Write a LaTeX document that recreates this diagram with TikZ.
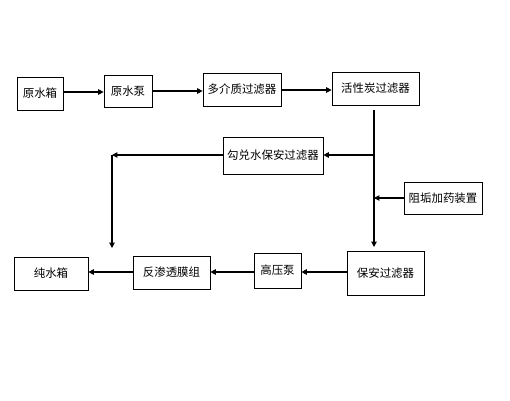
\documentclass[tikz,border=0pt]{standalone}
\usepackage{fontspec}
\newfontfamily\cjk{Noto Sans CJK SC}
\usetikzlibrary{arrows.meta}
\tikzset{
    unit/.style={draw,line width=0.7pt,inner sep=0pt,font=\cjk\fontsize{11.5}{13}\selectfont},
    flow/.style={line width=1.1pt,-{Triangle[length=5.5pt,width=5.5pt]}},
}
\newcommand\Unit[5]{%
    \node[unit,minimum width=#3,minimum height=#4] (#1) at (#2) {#5};
}

\begin{document}
\begin{tikzpicture}[x=1bp,y=-1bp]
    \useasboundingbox (0,0) rectangle (510,400);
    % top row
    \Unit{RawTank}{40,93.5}{46bp}{33bp}{原水箱}
    \Unit{RawPump}{128,91}{48bp}{32bp}{原水泵}
    \Unit{MediaFilter}{242,89.5}{78bp}{33bp}{多介质过滤器}
    \Unit{CarbonFilter}{375.5,88.5}{87bp}{33bp}{活性炭过滤器}
    % middle
    \Unit{BlendFilter}{273,155.5}{100bp}{37bp}{勾兑水保安过滤器}
    \Unit{Dosing}{443,198}{78bp}{32bp}{阻垢加药装置}
    % bottom row
    \Unit{PureTank}{51,273.5}{74bp}{33bp}{纯水箱}
    \Unit{ROUnit}{171.5,272.5}{77bp}{33bp}{反渗透膜组}
    \Unit{HPPump}{277.5,270.5}{47bp}{35bp}{高压泵}
    \Unit{SafeFilter}{385.5,273}{77bp}{44bp}{保安过滤器}
    \coordinate (MainTop) at (374,110);
    \coordinate (MainEnd) at (374,247);
    \coordinate (BlendTurn) at (112,155);
    \coordinate (BlendEnd) at (112,248);
    \begin{scope}[flow] % forward path
        \draw (RawTank.east |- 0,92) -- (RawPump.west |- 0,92);
        \draw (RawPump.east |- 0,91) -- (MediaFilter.west |- 0,91);
        \draw (MediaFilter.east |- 0,90) -- (CarbonFilter.west |- 0,90);
        \draw (MainTop) -- (MainEnd);
        \draw (MainTop |- BlendTurn) -- (BlendFilter.east |- BlendTurn);
        \draw (Dosing.west) -- (MainTop |- Dosing.west);
        \draw (SafeFilter.west |- 0,272) -- (HPPump.east |- 0,272);
        \draw (HPPump.west |- 0,272) -- (ROUnit.east |- 0,272);
        \draw (ROUnit.west |- 0,272) -- (PureTank.east |- 0,272);
    \end{scope}
    \begin{scope}[flow] % blending branch
        \draw (BlendFilter.west |- BlendTurn) -- (BlendTurn);
        \draw (BlendTurn) -- (BlendEnd);
    \end{scope}
\end{tikzpicture}
\end{document}
